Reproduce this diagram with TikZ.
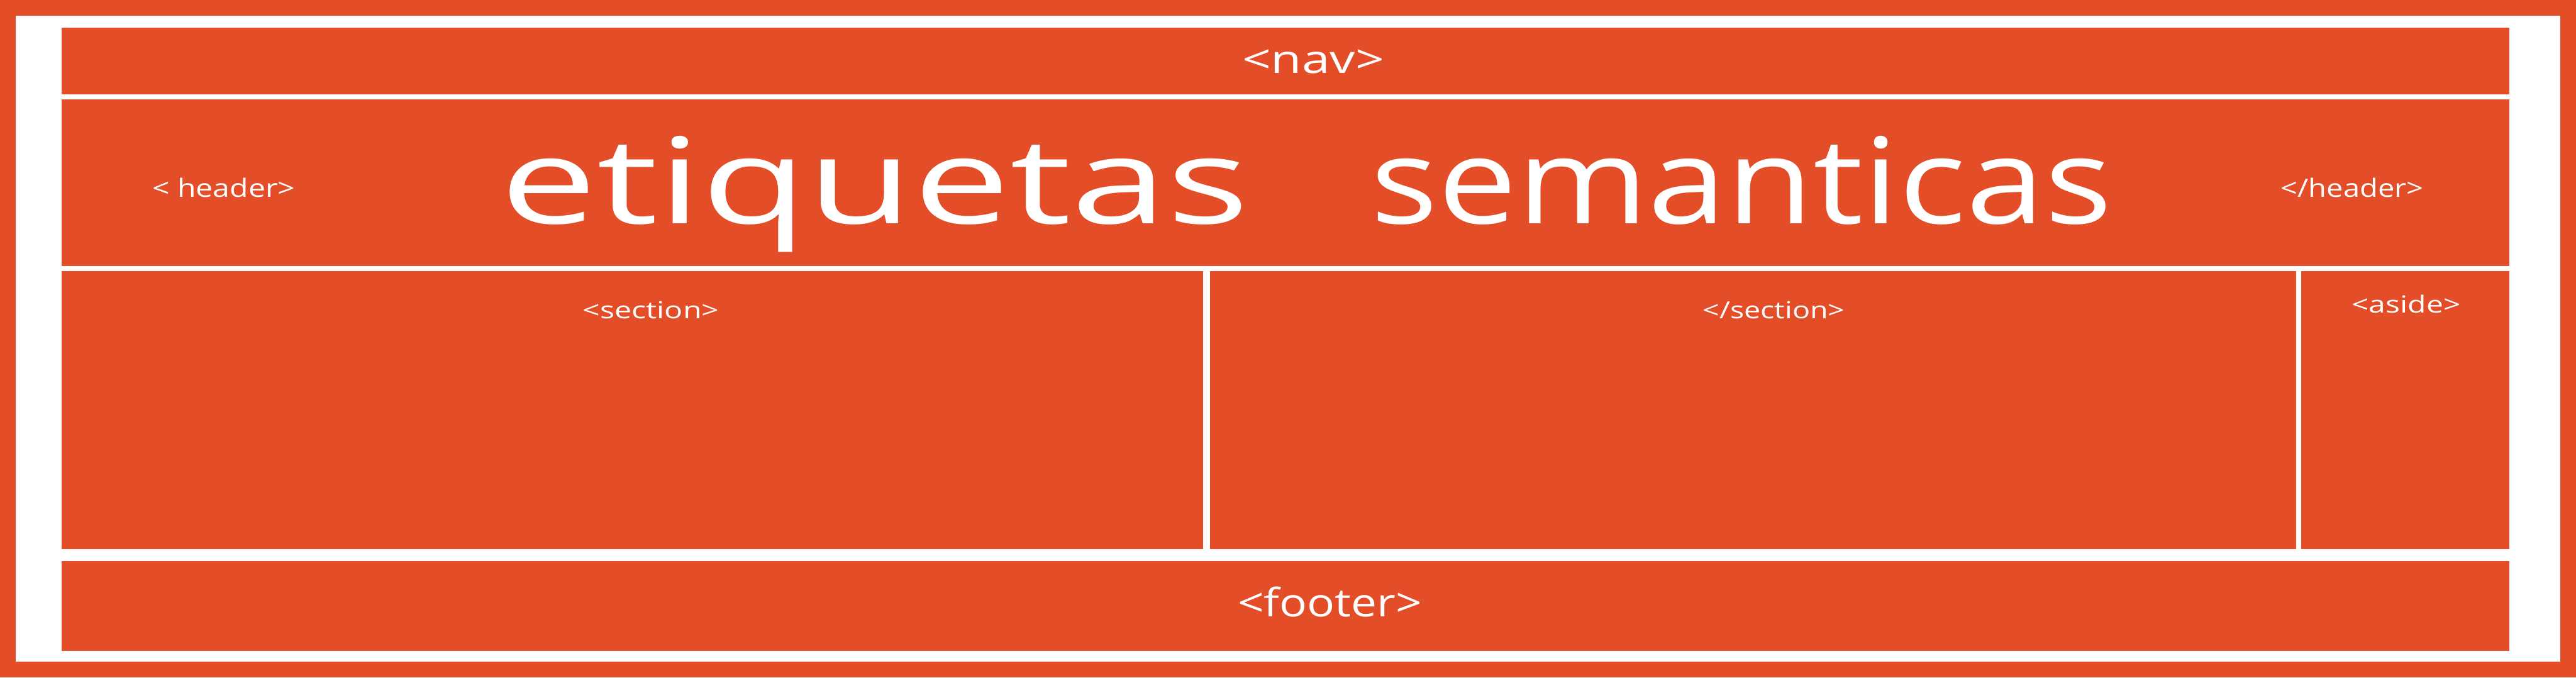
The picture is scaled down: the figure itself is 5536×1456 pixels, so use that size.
\documentclass[tikz,border=0pt]{standalone}
\usepackage{fontspec}
\setmainfont{Open Sans}
\usepackage{graphicx}
\definecolor{tagorange}{RGB}{227,77,39}
\tikzset{
  box/.style={fill=tagorange},
  lbl/.style={text=white, inner sep=0pt, outer sep=0pt, anchor=base},
}
\newcommand{\fittext}[3]{\resizebox{#1}{\height}{\fontsize{#2}{#2}\selectfont #3}}
\begin{document}
\begin{tikzpicture}[x=0.01cm,y=-0.01cm]
\useasboundingbox (0,0) rectangle (5536,1456);
% frame
\fill[tagorange] (0,0) rectangle (5536,1456);
\fill[white] (34,34) rectangle (5502,1422);
% blocks
\fill[box] (132,59) rectangle (5392,203);    % nav
\fill[box] (132,213) rectangle (5392,572);   % header
\fill[box] (132,583) rectangle (2586,1180);  % section 1
\fill[box] (2601,583) rectangle (4934,1180); % section 2
\fill[box] (4945,583) rectangle (5392,1180); % aside
\fill[box] (132,1205) rectangle (5392,1399); % footer
% labels
\node[lbl] (navlbl) at (2822,158) {\fittext{30.5mm}{23.9pt}{<nav>}};
\node[lbl, anchor=base west] (title) at (1075,480)
  {\fittext{160.9mm}{72.9pt}{etiquetas}\hspace{26mm}\fittext{159.3mm}{72.9pt}{semanticas}};
\node[lbl] (hdropen) at (481,424) {\fittext{30.7mm}{15.4pt}{< header>}};
\node[lbl] (hdrclose) at (5055,424) {\fittext{30.7mm}{15.4pt}{</header>}};
\node[lbl] (secopen) at (1399,685) {\fittext{29.3mm}{14.4pt}{<section>}};
\node[lbl] (secclose) at (3812,685) {\fittext{30.5mm}{14.4pt}{</section>}};
\node[lbl] (asidelbl) at (5171,672) {\fittext{23.4mm}{14.4pt}{<aside>}};
\node[lbl] (footerlbl) at (2858,1325) {\fittext{39.6mm}{23.9pt}{<footer>}};
\end{tikzpicture}
\end{document}
